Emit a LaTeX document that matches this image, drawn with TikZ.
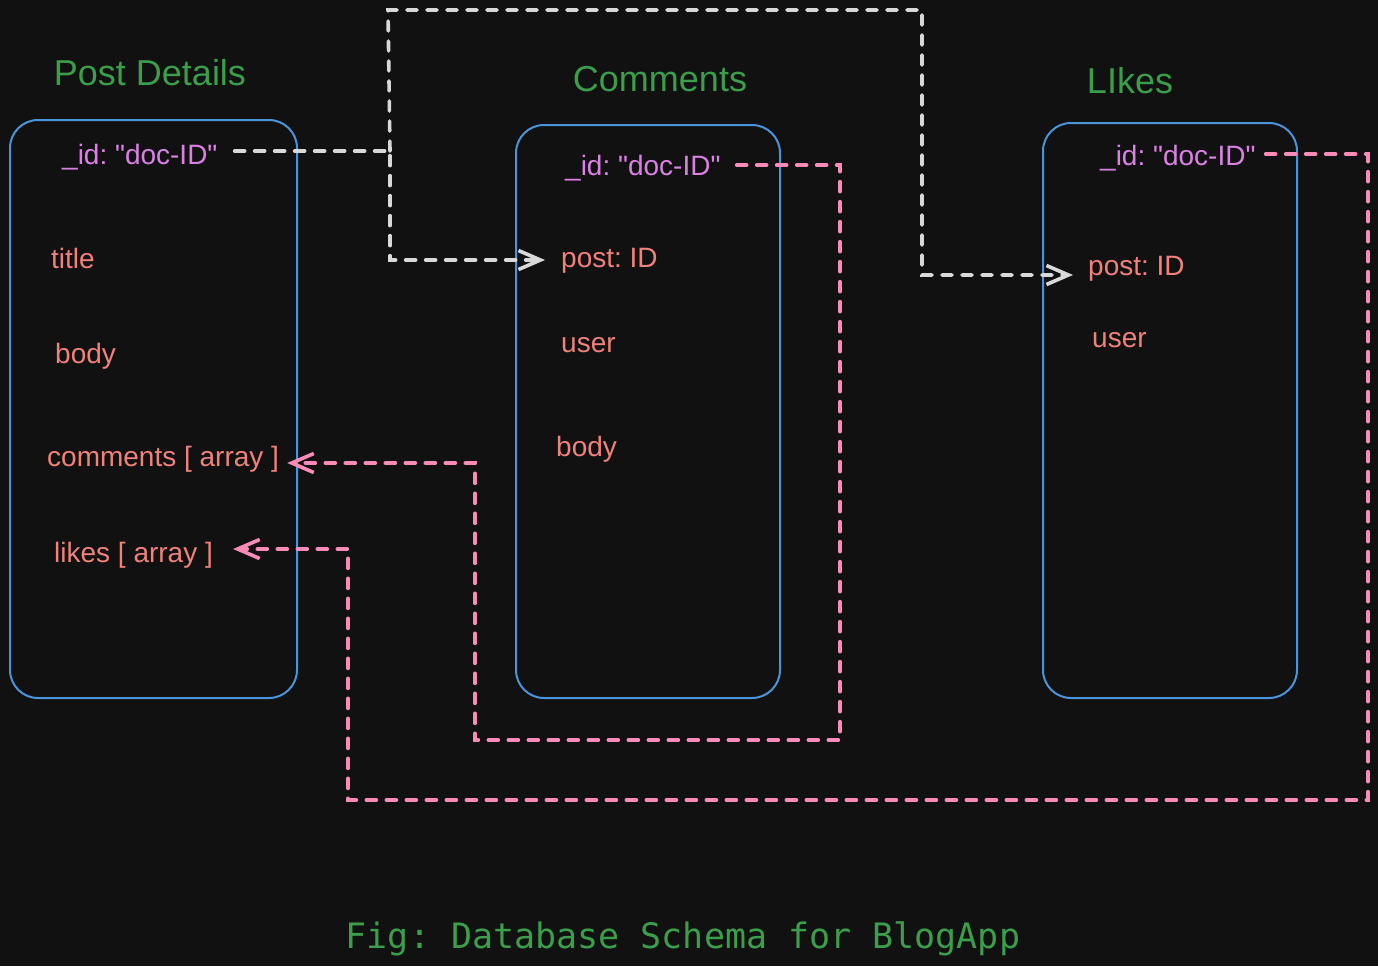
\documentclass[tikz,border=0pt]{standalone}
\usepackage{fontspec}
\setmainfont{Liberation Sans}
\newfontfamily\capfont{DejaVu Sans Mono}
\usetikzlibrary{arrows.meta}
\frenchspacing
\definecolor{bg}{HTML}{111111}
\definecolor{boxblue}{HTML}{4A94DC}
\definecolor{titlegreen}{HTML}{3A9E4A}
\definecolor{fieldred}{HTML}{F0817B}
\definecolor{idpurple}{HTML}{DC80E6}
\definecolor{linegray}{HTML}{D9D9D9}
\definecolor{linepink}{HTML}{FA8BB8}
\begin{document}
\begin{tikzpicture}[x=1pt,y=-1pt,
  box/.style={draw=boxblue, line width=2pt, rounded corners=28pt, inner sep=0pt},
  ttl/.style={text=titlegreen, font=\fontsize{36}{42}\selectfont, anchor=base, inner sep=0pt},
  fld/.style={text=fieldred, font=\fontsize{28}{34}\selectfont, anchor=base west, inner sep=0pt},
  idf/.style={fld, text=idpurple},
  conn/.style={line width=3.6pt, dash pattern=on 10pt off 10pt, line cap=round},
  wline/.style={conn, draw=linegray, -{Straight Barb[length=22pt,width=19pt]}},
  pline/.style={conn, draw=linepink, -{Straight Barb[length=22pt,width=19pt]}}]
\fill[bg] (0,0) rectangle (1378,966);
\useasboundingbox (0,0) rectangle (1378,966);

% boxes
\node[box, minimum width=287pt, minimum height=578pt] (postbox) at (153.5,409) {};
\node[box, minimum width=264pt, minimum height=573pt] (combox) at (648,411.5) {};
\node[box, minimum width=254pt, minimum height=575pt] (likebox) at (1170,410.5) {};

% titles
\node[ttl] (tpost) at (150,85) {Post Details};
\node[ttl] (tcom) at (660,91) {Comments};
\node[ttl] (tlike) at (1130,93) {LIkes};

% Post Details fields
\node[idf] (pid) at (62,164) {\_id: \textquotedbl doc-ID\textquotedbl};
\node[fld] (ptitle) at (51,268) {title};
\node[fld] (pbody) at (55,363) {body};
\node[fld] (pcom) at (47,466) {comments [ array ]};
\node[fld] (plikes) at (54,562) {likes [ array ]};

% Comments fields
\node[idf] (cid) at (565,175) {\_id: \textquotedbl doc-ID\textquotedbl};
\node[fld] (cpost) at (561,267) {post: ID};
\node[fld] (cuser) at (561,352) {user};
\node[fld] (cbody) at (556,456) {body};

% Likes fields
\node[idf] (lid) at (1100,165) {\_id: \textquotedbl doc-ID\textquotedbl};
\node[fld] (lpost) at (1088,275) {post: ID};
\node[fld] (luser) at (1092,347) {user};

% caption
\node[text=titlegreen, font=\capfont\fontsize{35}{40}\selectfont, anchor=base, inner sep=0pt] (cap) at (683,948) {Fig: Database Schema for BlogApp};

% waypoints
\coordinate (wa1) at (390,151);
\coordinate (wa2) at (390,260);
\coordinate (wb1) at (388,10);
\coordinate (wb2) at (922,10);
\coordinate (wb3) at (922,275);
\coordinate (pc1) at (840,165);
\coordinate (pc2) at (840,740);
\coordinate (pc3) at (475,740);
\coordinate (pc4) at (475,463);
\coordinate (pd1) at (1368,154);
\coordinate (pd2) at (1368,800);
\coordinate (pd3) at (348,800);
\coordinate (pd4) at (348,549);

% connectors
\draw[wline, shorten <=17pt, shorten >=16pt] (pid.east |- wa1) -- (wa1) -- (wa2) -- (cpost.west |- wa2);
\draw[wline, shorten >=15pt] (wa1) -- (wb1) -- (wb2) -- (wb3) -- (lpost.west |- wb3);
\draw[pline, shorten <=16pt, shorten >=8pt] (cid.east |- pc1) -- (pc1) -- (pc2) -- (pc3) -- (pc4) -- (pcom.east |- pc4);
\draw[pline, shorten <=10pt, shorten >=20pt] (lid.east |- pd1) -- (pd1) -- (pd2) -- (pd3) -- (pd4) -- (plikes.east |- pd4);
\end{tikzpicture}
\end{document}
